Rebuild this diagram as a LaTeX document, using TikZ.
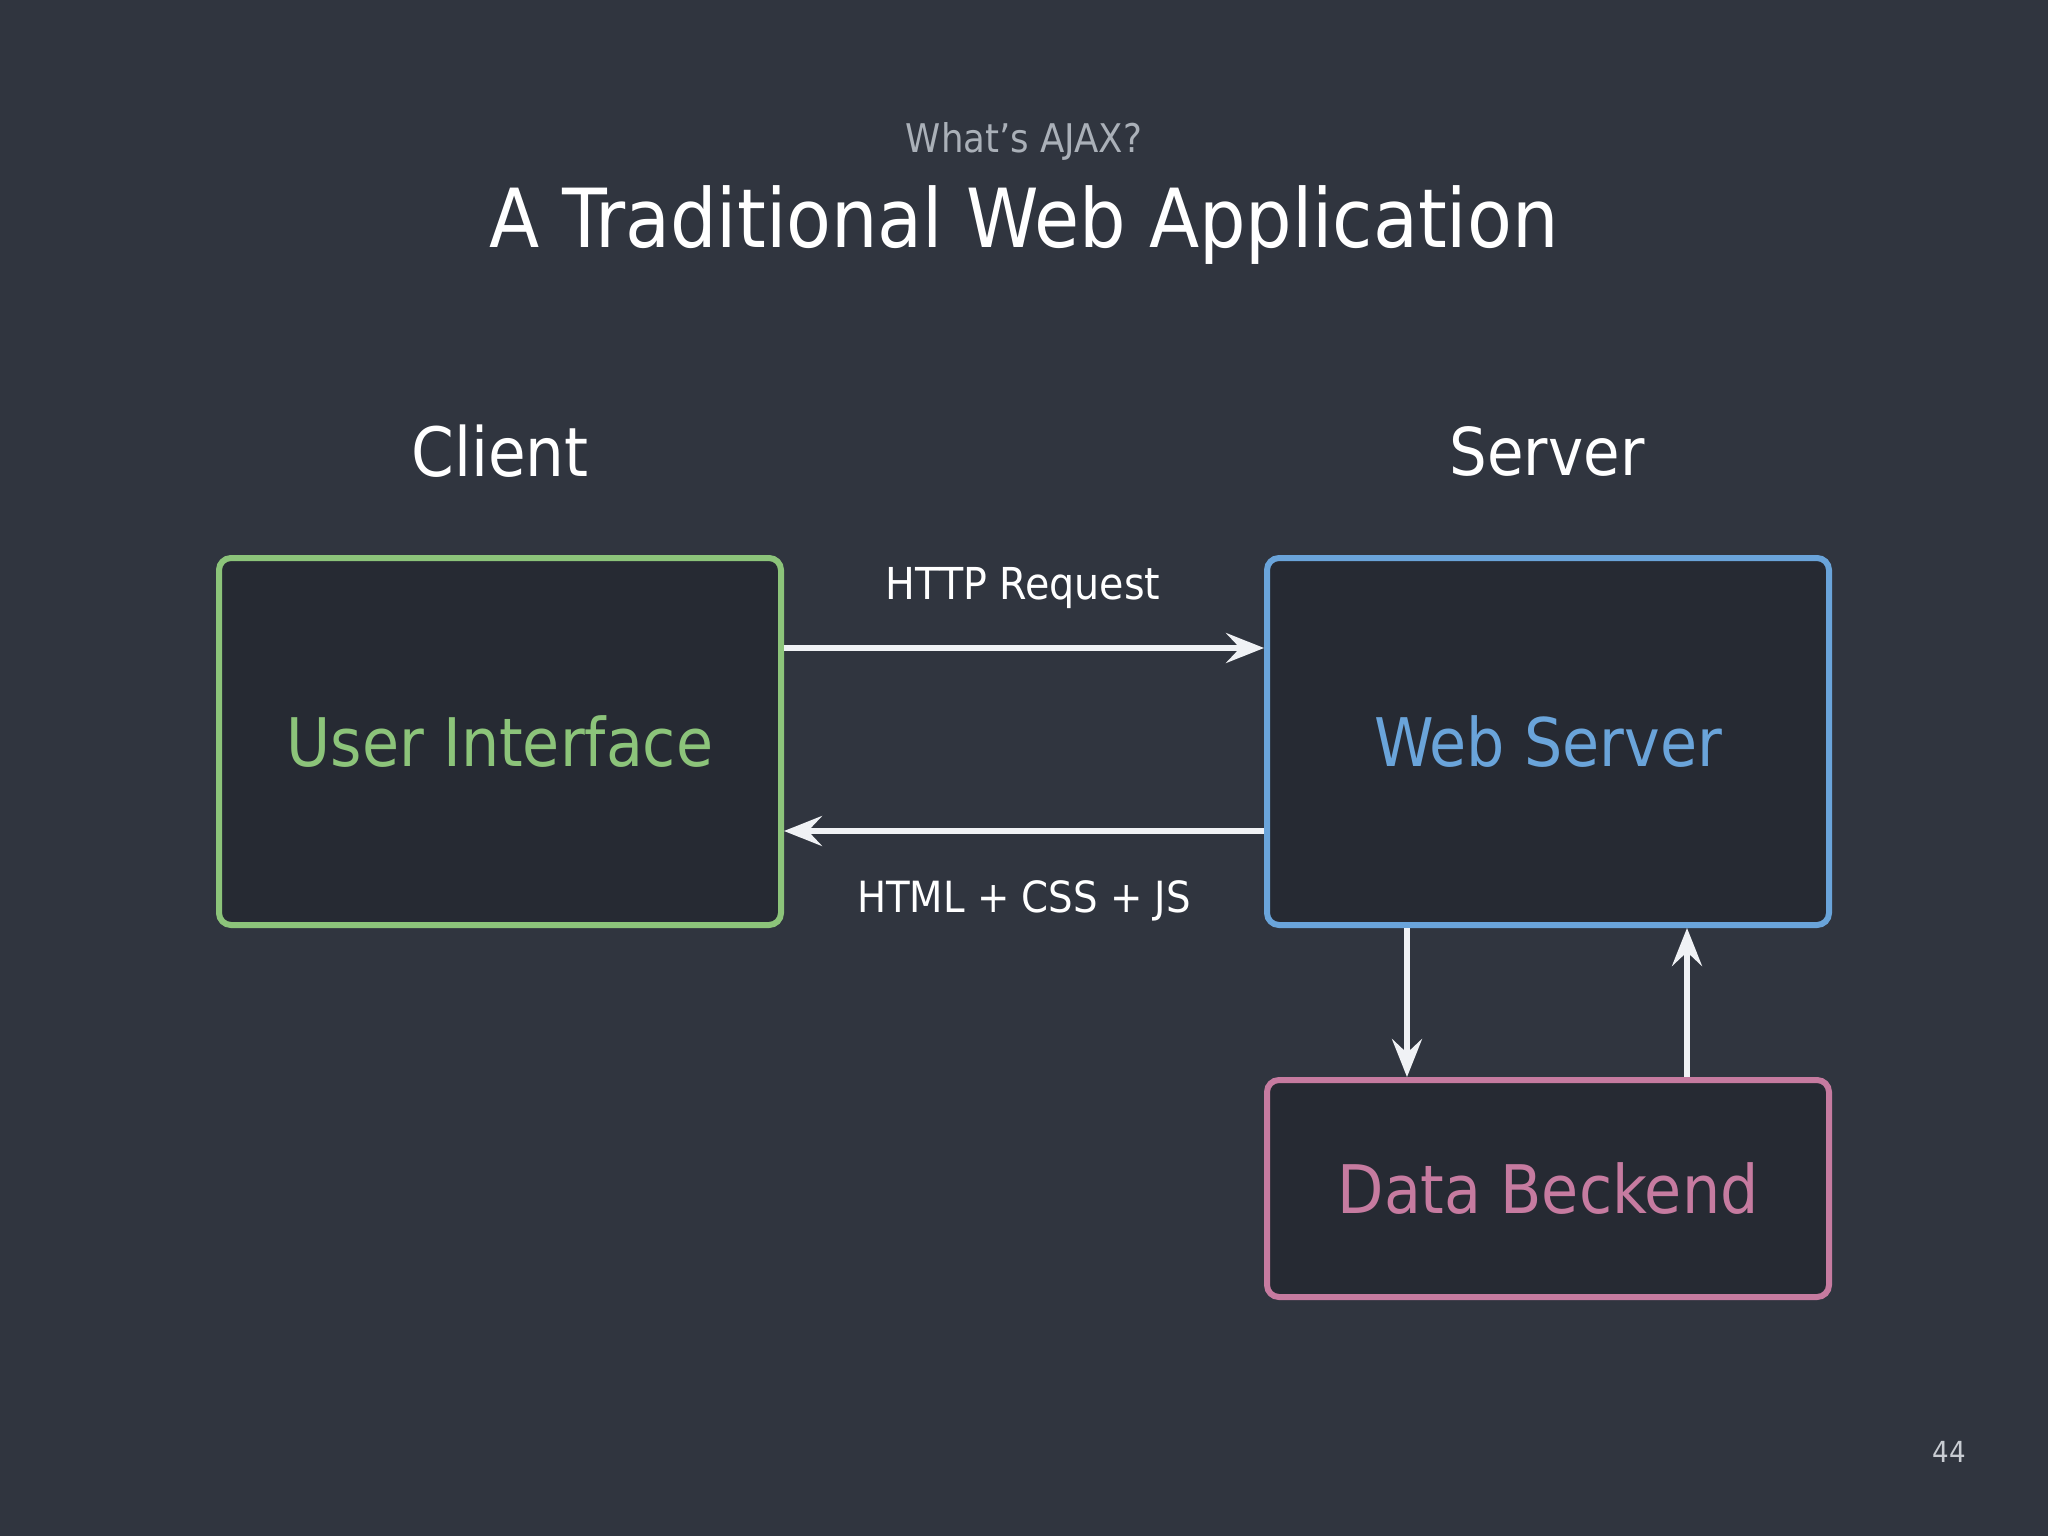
\documentclass[tikz,border=0pt]{standalone}
\usepackage{fontspec}
\setmainfont{DejaVu Sans Condensed}
\usetikzlibrary{arrows.meta}
\definecolor{bg}{HTML}{30353F}
\definecolor{boxfill}{HTML}{262A33}
\definecolor{uigreen}{HTML}{8CC47A}
\definecolor{wsblue}{HTML}{6AA4DA}
\definecolor{dbpink}{HTML}{C67BA0}
\definecolor{subgray}{HTML}{AAB0B8}
\definecolor{pagegray}{HTML}{C8CCD2}
\definecolor{arrowwhite}{HTML}{F0F2F5}
\tikzset{
  panel/.style={draw, line width=6pt, rounded corners=12pt, fill=boxfill, minimum width=562pt, inner sep=0pt, font=\fontsize{67}{80}\selectfont},
  flow/.style={draw=arrowwhite, line width=5.5pt, -{Stealth[length=38pt, width=30pt, inset=14pt]}},
  lbl/.style={text=white, font=\fontsize{44}{52}\selectfont, inner sep=0pt},
}
\begin{document}
\begin{tikzpicture}[x=1pt, y=-1pt]
\fill[bg] (0,0) rectangle (2048,1536);
\useasboundingbox (0,0) rectangle (2048,1536);
\node[text=subgray, font=\fontsize{39.5}{46}\selectfont] (sub) at (1024,141) {What’s AJAX?};
\node[text=white, font=\fontsize{81.5}{96}\selectfont] (title) at (1024,225) {A Traditional Web Application};
\node[text=white, font=\fontsize{68}{80}\selectfont] (client) at (500,451) {Client};
\node[text=white, font=\fontsize{66}{80}\selectfont] (server) at (1547,451) {Server};
\node[panel, draw=uigreen, minimum height=367pt, text=uigreen] (ui) at (500,741.5) {User Interface};
\node[panel, draw=wsblue, minimum height=367pt, text=wsblue] (ws) at (1548,741.5) {Web Server};
\node[panel, draw=dbpink, minimum height=217pt, text=dbpink] (db) at (1548,1188.5) {Data Beckend};
\coordinate (a1s) at (781,648);
\coordinate (a1e) at (1267,648);
\coordinate (a2s) at (1267,831);
\coordinate (a2e) at (781,831);
\draw[flow] (ui.east |- a1s) -- (ws.west |- a1e);
\draw[flow] (ws.west |- a2s) -- (ui.east |- a2e);
\coordinate (dx) at (1407,0);
\coordinate (ux) at (1687,0);
\draw[flow] (ws.south -| dx) -- (db.north -| dx);
\draw[flow] (db.north -| ux) -- (ws.south -| ux);
\node[lbl] (req) at (1023,588) {HTTP Request};
\node[lbl, font=\fontsize{43}{50}\selectfont] (resp) at (1024,901) {HTML + CSS + JS};
\node[text=pagegray, font=\fontsize{29}{34}\selectfont] (page) at (1949,1452) {44};
\end{tikzpicture}
\end{document}
